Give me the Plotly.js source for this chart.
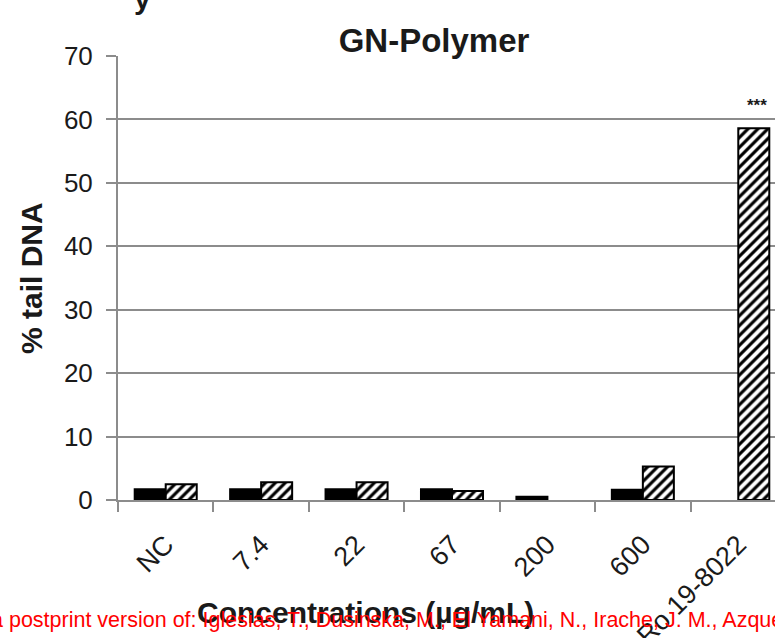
<!DOCTYPE html>
<html>
<head>
<meta charset="utf-8">
<script src="https://cdn.plot.ly/plotly-3.0.1.min.js"></script>
<style>html,body{margin:0;padding:0;background:#fff;}#chart{width:775px;height:638px;}</style>
</head>
<body>
<div id="chart"></div>
<script>
const categories = ["NC", "7.4", "22", "67", "200", "600", "Ro 19-8022"];
const solidValues = [1.7, 1.7, 1.7, 1.7, 0.5, 1.6, 0];
const hatchedValues = [2.5, 2.8, 2.8, 1.4, 0, 5.3, 58.6];
const yTicks = [0, 10, 20, 30, 40, 50, 60, 70];

const FONT = "Liberation Sans, Arial, sans-serif";
const L = 118, R = 775, T = 56, B = 500;
const px = x => (x - L) / (R - L);
const py = y => (B - y) / (B - T);
const outline = vals => vals.map(v => (v > 0 ? 2 : 0));

const traces = [
  {
    type: "bar", x: categories, y: solidValues, name: "solid",
    marker: {color: "#000", line: {color: "#000", width: outline(solidValues)}},
    hoverinfo: "x+y"
  },
  {
    type: "bar", x: categories, y: hatchedValues, name: "hatched",
    marker: {color: "#fff", line: {color: "#000", width: outline(hatchedValues)},
      pattern: {shape: "/", fgcolor: "#000", bgcolor: "#fff", size: 7, solidity: 0.45}},
    hoverinfo: "x+y"
  }
];

const layout = {
  width: 775, height: 638,
  margin: {l: L, r: 0, t: T, b: 638 - B, pad: 0},
  paper_bgcolor: "#fff", plot_bgcolor: "#fff",
  showlegend: false,
  barmode: "group", bargap: 0.35, bargroupgap: 0,
  font: {family: FONT, color: "#1a1a1a"},
  title: {
    text: "<b>GN-Polymer</b>",
    font: {family: FONT, size: 33, color: "#1a1a1a"},
    x: 434 / 775, xref: "container", xanchor: "center",
    y: 1 - 40 / 638, yref: "container", yanchor: "middle"
  },
  xaxis: {
    type: "category",
    range: [-0.5, 6.5 - 11 / 95.5],
    tickson: "boundaries",
    ticks: "outside", ticklen: 10, tickwidth: 2, tickcolor: "#8c8c8c",
    ticklabelstandoff: 16,
    showline: true, linecolor: "#8c8c8c", linewidth: 2,
    showgrid: false, zeroline: false,
    tickangle: -45,
    tickfont: {family: FONT, size: 27, color: "#1a1a1a"},
    automargin: false, fixedrange: true
  },
  yaxis: {
    range: [0, 70],
    tickvals: yTicks, ticktext: yTicks.map(String),
    ticks: "outside", ticklen: 10, tickwidth: 2, tickcolor: "#8c8c8c",
    ticklabelstandoff: 8,
    showline: true, linecolor: "#8c8c8c", linewidth: 2,
    showgrid: true, gridcolor: "#8c8c8c", gridwidth: 2,
    zeroline: false,
    tickfont: {family: FONT, size: 26, color: "#1a1a1a"},
    automargin: false, fixedrange: true
  },
  annotations: [
    {text: "<b>% tail DNA</b>", xref: "paper", yref: "paper",
     x: px(31), y: py(278), xanchor: "center", yanchor: "middle",
     textangle: -90, showarrow: false,
     font: {family: FONT, size: 30, color: "#1a1a1a"}},
    {text: "<b>Concentrations (µg/mL)</b>", xref: "paper", yref: "paper",
     x: px(365), y: py(612), xanchor: "center", yanchor: "middle",
     showarrow: false,
     font: {family: FONT, size: 30, color: "#1a1a1a"}},
    {text: "<b>***</b>", xref: "x", yref: "paper",
     x: 6.2, y: py(106), xanchor: "center", yanchor: "middle",
     showarrow: false,
     font: {family: FONT, size: 17, color: "#1a1a1a"}},
    {text: "<b>y</b>", xref: "paper", yref: "paper",
     x: px(142), y: py(-2), xanchor: "center", yanchor: "middle",
     showarrow: false,
     font: {family: FONT, size: 30, color: "#1a1a1a"}},
    {text: "a postprint version of: Iglesias, T., Dusinska, M., El Yamani, N., Irache, J. M., Azqueta, A., López de Cerain, A.",
     xref: "paper", yref: "paper",
     x: px(-11), y: py(620), xanchor: "left", yanchor: "middle",
     showarrow: false,
     font: {family: FONT, size: 21.5, color: "#ff0000"}}
  ]
};

Plotly.newPlot("chart", traces, layout, {displayModeBar: false, staticPlot: true});
</script>
</body>
</html>
